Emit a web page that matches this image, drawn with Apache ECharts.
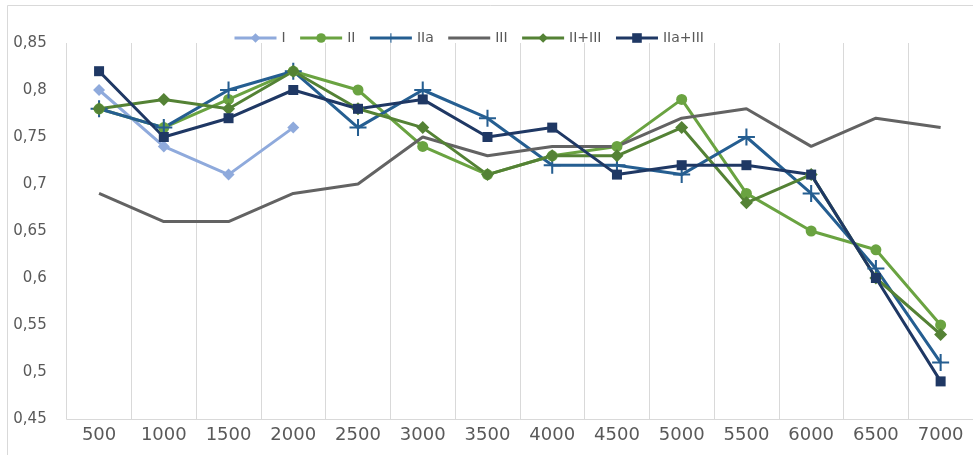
<!DOCTYPE html>
<html>
<head>
<meta charset="utf-8">
<script src="https://cdn.jsdelivr.net/npm/echarts@6/dist/echarts.min.js"></script>
<style>
  html, body { margin: 0; padding: 0; background: #fff; }
  #chart { width: 973px; height: 455px; }
</style>
</head>
<body>
<div id="chart"></div>
<script>
// Frequency categories on the x axis
var categories = ['500', '1000', '1500', '2000', '2500', '3000', '3500', '4000', '4500', '5000', '5500', '6000', '6500', '7000'];

// Series values per category
var seriesI      = [0.80, 0.74, 0.71, 0.76, null, null, null, null, null, null, null, null, null, null];
var seriesII     = [0.78, 0.76, 0.79, 0.82, 0.80, 0.74, 0.71, 0.73, 0.74, 0.79, 0.69, 0.65, 0.63, 0.55];
var seriesIIa    = [0.78, 0.76, 0.80, 0.82, 0.76, 0.80, 0.77, 0.72, 0.72, 0.71, 0.75, 0.69, 0.61, 0.51];
var seriesIII    = [0.69, 0.66, 0.66, 0.69, 0.70, 0.75, 0.73, 0.74, 0.74, 0.77, 0.78, 0.74, 0.77, 0.76];
var seriesIIIII  = [0.78, 0.79, 0.78, 0.82, 0.78, 0.76, 0.71, 0.73, 0.73, 0.76, 0.68, 0.71, 0.60, 0.54];
var seriesIIaIII = [0.82, 0.75, 0.77, 0.80, 0.78, 0.79, 0.75, 0.76, 0.71, 0.72, 0.72, 0.71, 0.60, 0.49];

// Y axis range
var yMin = 0.45, yMax = 0.85, yStep = 0.05;

var FONT = '"DejaVu Sans", sans-serif';
var plusPath = 'path://M4.4,0H5.6V4.4H10V5.6H5.6V10H4.4V5.6H0V4.4H4.4Z';

function lineSeries(name, data, color, symbol, size, width) {
  return {
    name: name,
    type: 'line',
    data: data,
    symbol: symbol,
    symbolSize: size,
    showSymbol: true,
    connectNulls: false,
    lineStyle: { color: color, width: width || 3 },
    itemStyle: { color: color, borderWidth: 0 },
    emphasis: { disabled: true },
    animation: false
  };
}

var chart = echarts.init(document.getElementById('chart'), null, { renderer: 'canvas' });

chart.setOption({
  backgroundColor: '#ffffff',
  animation: false,
  textStyle: { fontFamily: FONT },
  graphic: [{
    type: 'rect',
    shape: { x: 7.5, y: 5.5, width: 1000, height: 500 },
    style: { fill: 'none', stroke: '#d9d9d9', lineWidth: 1 },
    silent: true
  }],
  legend: {
    top: 31,
    left: 233,
    padding: 0,
    itemWidth: 42,
    itemHeight: 12,
    itemGap: 13,
    lineStyle: { width: 3 },
    textStyle: { color: '#595959', fontSize: 14, fontFamily: FONT },
    data: [
      'I', 'II', 'IIa',
      { name: 'III', itemStyle: { opacity: 0 } },
      'II+III', 'IIa+III'
    ]
  },
  grid: {
    left: 66.7,
    right: -3.7,
    top: 43,
    bottom: 36,
    containLabel: false
  },
  xAxis: {
    type: 'category',
    data: categories,
    boundaryGap: true,
    axisTick: { show: false },
    axisLine: { show: true, lineStyle: { color: '#d9d9d9', width: 1 } },
    splitLine: { show: true, lineStyle: { color: '#d9d9d9', width: 1 } },
    axisLabel: {
      color: '#595959',
      fontSize: 18,
      fontFamily: FONT,
      margin: 7
    }
  },
  yAxis: {
    type: 'value',
    min: yMin,
    max: yMax,
    interval: yStep,
    axisLine: { show: false },
    axisTick: { show: false },
    splitLine: { show: false },
    axisLabel: {
      color: '#595959',
      fontSize: 15,
      fontFamily: FONT,
      margin: 20,
      formatter: function (v) {
        return String(Math.round(v * 100) / 100).replace('.', ',');
      }
    }
  },
  series: [
    lineSeries('I', seriesI, '#8faadc', 'diamond', 12),
    lineSeries('II', seriesII, '#6aa341', 'circle', 11),
    lineSeries('IIa', seriesIIa, '#255e91', plusPath, 17),
    lineSeries('III', seriesIII, '#636363', 'none', 0),
    lineSeries('II+III', seriesIIIII, '#548235', 'diamond', 13),
    lineSeries('IIa+III', seriesIIaIII, '#1f3864', 'rect', 10)
  ]
});
</script>
</body>
</html>
